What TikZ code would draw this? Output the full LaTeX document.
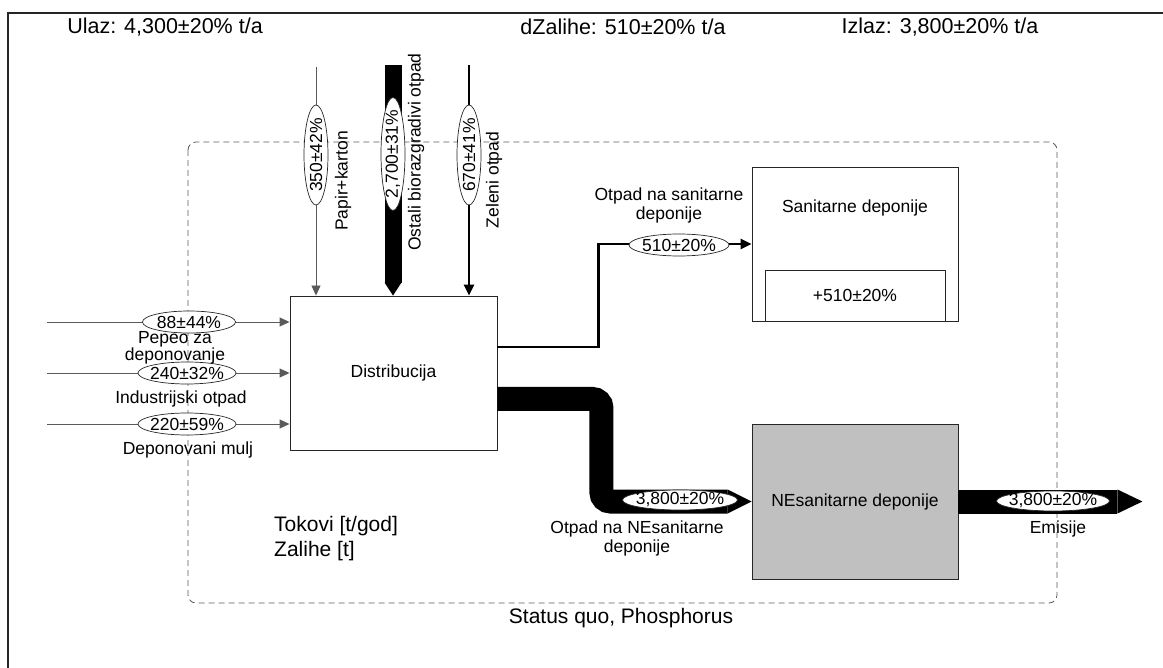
\documentclass[tikz,border=0pt]{standalone}
\usepackage{fontspec}
\setmainfont{Liberation Sans}
\usetikzlibrary{shapes.geometric,arrows.meta,calc}
\definecolor{boxgray}{RGB}{192,192,192}
\definecolor{linegray}{RGB}{90,90,90}
\begin{document}
\begin{tikzpicture}[x=1pt,y=-1pt,
  every node/.style={font=\fontsize{17.5}{19}\selectfont, inner sep=0pt},
  procbox/.style={draw=black!85, line width=0.9pt, rectangle},
  ell/.style 2 args={ellipse, draw=black!85, line width=0.7pt, fill=white, inner sep=-10pt, minimum width=#1, minimum height=#2},
  thinflow/.style={draw=linegray, line width=0.9pt, -{Triangle[length=10pt,width=9pt]}},
  medflow/.style={draw=black, line width=2.6pt, -{Triangle[length=11pt,width=10pt]}},
  lbl/.style={align=center, font=\fontsize{17.5}{17}\selectfont},
  head/.style={font=\fontsize{21.5}{24}\selectfont},
]
\useasboundingbox (0,0) rectangle (1163,668);
% outer frame
\draw[black!85, line width=1.4pt] (8,668) -- (8,13) -- (1163,13);
% system boundary
\draw[linegray, line width=0.8pt, dash pattern=on 6pt off 4pt, rounded corners=8pt] (188,142) rectangle (1057,603);

% headers
\node[head] (hin) at (165,27) {Ulaz: 4,300±20\% t/a};
\node[head] (hst) at (623,27) {dZalihe: 510±20\% t/a};
\node[head] (hout) at (940,27) {Izlaz: 3,800±20\% t/a};

% processes
\node[procbox, minimum width=207pt, minimum height=154pt] (dist) at (393.5,373) {Distribucija};
\node[procbox, minimum width=206pt, minimum height=154pt] (san) at (855,244) {};
\node (santxt) at (855,208) {Sanitarne deponije};
\node[procbox, minimum width=180pt, minimum height=51pt] (sanin) at (855,295.5) {+510±20\%};
\node[procbox, fill=boxgray, minimum width=206pt, minimum height=155pt] (nesan) at (855,501.5) {NEsanitarne deponije};

% free ends
\coordinate (pin) at (316,67);
\coordinate (oin) at (393,65);
\coordinate (zin) at (469,65);
\coordinate (l1) at (47,322);
\coordinate (l2) at (47,373);
\coordinate (l3) at (47,424);

% vertical inputs
\draw[thinflow] (pin) -- (pin |- dist.north);
\draw[black, line width=17pt] (oin) -- ($(oin |- dist.north)+(0,-13)$) coordinate (otip);
\fill[black] ($(otip)+(-8.5,0)$) -- (oin |- dist.north) -- ($(otip)+(8.5,0)$) -- cycle;
\draw[medflow, line width=2.8pt] (zin) -- (zin |- dist.north);

% left inputs
\draw[thinflow] (l1) -- (l1 -| dist.west);
\draw[thinflow] (l2) -- (l2 -| dist.west);
\draw[thinflow] (l3) -- (l3 -| dist.west);

% to sanitarne
\draw[medflow] ([yshift=26pt]dist.east) -- ++(101,0) |- (san.west);

% to NEsanitarne (thick)
\draw[black, line width=24pt, rounded corners=9pt] ([yshift=-26pt]dist.east) -- ++(104,0) |- ([xshift=-24pt]nesan.west) coordinate (nt);
\fill[black] ($(nt)+(0,-12)$) -- (nesan.west) -- ($(nt)+(0,12)$) -- cycle;

% emissions
\draw[black, line width=24pt] (nesan.east) -- ++(159,0) coordinate (et);
\fill[black] ($(et)+(0,-12)$) -- ++(25,12) coordinate (etip) -- ($(et)+(0,12)$) -- cycle;

% flow value ellipses
\node[ell={100pt}{24pt}, rotate=90] (e1) at (316,155) {350±42\%};
\node[ell={113pt}{24pt}, rotate=90] (e2) at (393,154) {2,700±31\%};
\node[ell={100pt}{24pt}, rotate=90] (e3) at (469,155) {670±41\%};
\node[ell={93pt}{22pt}] (e4) at (189,322) {88±44\%};
\node[ell={98pt}{22pt}] (e5) at (187,373) {240±32\%};
\node[ell={98pt}{22pt}] (e6) at (187,424) {220±59\%};
\node[ell={100pt}{22pt}] (e7) at (679,245) {510±20\%};
\node[ell={115pt}{20pt}] (e8) at (680,500) {3,800±20\%};
\node[ell={113pt}{20pt}] (e9) at (1053,501) {3,800±20\%};

% flow names
\node[rotate=90] (n1) at (343,181) {Papir+karton};
\node[rotate=90] (n2) at (416,152) {Ostali biorazgradivi otpad};
\node[rotate=90] (n3) at (494,180) {Zeleni otpad};
\node[lbl] (n4) at (175,348) {Pepeo za\\deponovanje};
\node (n5) at (181,399) {Industrijski otpad};
\node (n6) at (188,450) {Deponovani mulj};
\node[lbl, font=\fontsize{17.5}{19}\selectfont] (n7) at (669,205.5) {Otpad na sanitarne\\deponije};
\node[lbl, font=\fontsize{17.5}{19}\selectfont] (n8) at (637,538.5) {Otpad na NEsanitarne\\deponije};
\node (n9) at (1058,529) {Emisije};

% legend and title
\node[align=left, anchor=west, font=\fontsize{21}{25}\selectfont] (leg) at (274,538.5) {Tokovi [t/god]\\Zalihe [t]};
\node[font=\fontsize{21}{24}\selectfont] (title) at (621,618) {Status quo, Phosphorus};
\end{tikzpicture}
\end{document}
